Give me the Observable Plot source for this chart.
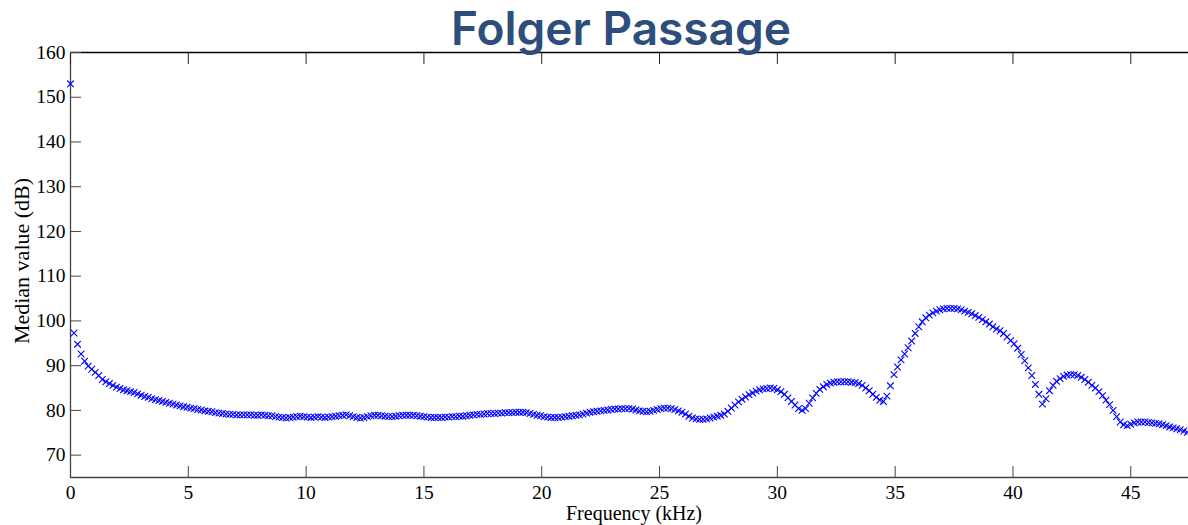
<!DOCTYPE html>
<html>
<head>
<meta charset="utf-8">
<script src="https://cdn.jsdelivr.net/npm/d3@7"></script>
<script src="https://cdn.jsdelivr.net/npm/@observablehq/plot@0.6"></script>
<style>
  html, body { margin: 0; padding: 0; background: #fff; }
  #wrap { position: relative; width: 1188px; height: 525px; overflow: hidden; }
  #title { position: absolute; left: 421px; width: 400px; top: 0px; text-align: center;
           font-family: "Inter", "Open Sans", sans-serif; font-weight: 600; font-size: 46px; color: #2d4e7b; line-height: normal; white-space: nowrap; }
  #ylab { position: absolute; left: 22px; top: 261px; transform: translate(-50%, -50%) rotate(-90deg);
          font-family: "Liberation Serif", serif; font-size: 22px; white-space: nowrap; color: #000; line-height: 22px; }
  #xlab { position: absolute; left: 634px; top: 503px; transform: translateX(-50%);
          font-family: "Liberation Serif", serif; font-size: 20px; white-space: nowrap; color: #000; line-height: 20px; }
</style>
</head>
<body>
<div id="wrap">
  <div id="chart"></div>
  <div id="title">Folger Passage</div>
  <div id="ylab">Median value (dB)</div>
  <div id="xlab">Frequency (kHz)</div>
</div>
<script>
// Frequency bins: uniform spacing in kHz, starting at 0
const freqStep = 0.15;
// Median value (dB), one per bin
const medianDb = [
  153, 97.3, 94.8, 92.6, 91.0, 89.9, 89.2, 88.5, 87.8, 86.9,
  86.4, 86.0, 85.6, 85.2, 84.9, 84.6, 84.4, 84.2, 84.0, 83.7,
  83.4, 83.1, 82.9, 82.6, 82.4, 82.2, 82.0, 81.8, 81.6, 81.4,
  81.2, 81.0, 80.8, 80.7, 80.5, 80.4, 80.2, 80.1, 79.9, 79.8,
  79.7, 79.5, 79.4, 79.3, 79.2, 79.1, 79.1, 79.0, 79.0, 79.0,
  79.0, 79.0, 78.9, 78.9, 79.0, 78.9, 78.8, 78.8, 78.6, 78.5,
  78.4, 78.3, 78.4, 78.5, 78.6, 78.7, 78.6, 78.5, 78.4, 78.5,
  78.6, 78.5, 78.4, 78.5, 78.6, 78.7, 78.8, 78.9, 79.0, 78.8,
  78.6, 78.4, 78.3, 78.4, 78.6, 78.8, 78.9, 78.9, 78.8, 78.7,
  78.6, 78.6, 78.7, 78.8, 78.9, 78.9, 78.9, 78.9, 78.8, 78.7,
  78.6, 78.5, 78.4, 78.4, 78.4, 78.4, 78.5, 78.5, 78.6, 78.6,
  78.7, 78.7, 78.8, 78.9, 79.0, 79.1, 79.1, 79.2, 79.3, 79.3,
  79.3, 79.4, 79.4, 79.5, 79.5, 79.5, 79.6, 79.6, 79.6, 79.5,
  79.3, 79.1, 78.9, 78.8, 78.6, 78.5, 78.4, 78.4, 78.4, 78.5,
  78.6, 78.7, 78.8, 78.9, 79.0, 79.2, 79.4, 79.6, 79.7, 79.8,
  79.9, 80.0, 80.1, 80.2, 80.3, 80.3, 80.4, 80.4, 80.4, 80.3,
  80.1, 79.9, 79.8, 79.7, 79.8, 80.0, 80.2, 80.4, 80.5, 80.5,
  80.4, 80.2, 79.9, 79.6, 79.2, 78.7, 78.3, 78.1, 78.0, 78.0,
  78.1, 78.3, 78.5, 78.7, 78.9, 79.2, 79.8, 80.5, 81.2, 81.9,
  82.5, 83.0, 83.5, 83.9, 84.3, 84.6, 84.8, 84.9, 85.0, 84.9,
  84.6, 84.2, 83.6, 82.8, 82.0, 81.2, 80.4, 80.0, 80.4, 81.6,
  82.8, 83.8, 84.7, 85.3, 85.8, 86.1, 86.3, 86.4, 86.4, 86.4,
  86.4, 86.3, 86.2, 86.0, 85.6, 85.0, 84.4, 83.6, 82.9, 82.3,
  82.0, 83.2, 85.5, 88.0, 89.7, 91.3, 92.6, 94.0, 95.5, 97.2,
  98.7, 99.8, 100.7, 101.3, 101.8, 102.2, 102.5, 102.7, 102.8, 102.8,
  102.8, 102.7, 102.5, 102.2, 101.9, 101.6, 101.2, 100.8, 100.3, 99.8,
  99.3, 98.7, 98.2, 97.8, 97.2, 96.4, 95.6, 94.9, 93.9, 92.5,
  91.1, 89.5, 87.8, 85.8, 83.6, 81.4, 82.6, 84.4, 85.6, 86.5,
  87.1, 87.6, 87.9, 88.0, 88.0, 87.8, 87.4, 86.9, 86.3, 85.6,
  85.0, 84.2, 83.3, 82.3, 81.3, 80.0, 78.6, 77.4, 76.8, 76.6,
  76.9, 77.2, 77.4, 77.4, 77.4, 77.3, 77.2, 77.1, 77.0, 76.8,
  76.6, 76.3, 76.1, 75.9, 75.7, 75.4, 75.1
];
const xTicks = [0, 5, 10, 15, 20, 25, 30, 35, 40, 45];
const yTicks = [70, 80, 90, 100, 110, 120, 130, 140, 150, 160];
const xDomain = [0, 47.45];
const yDomain = [65, 160];

const data = medianDb.map((v, i) => ({freq: i * freqStep, db: v}));

const axisColor = "#444";
const tickFont = {fontFamily: "Liberation Serif, serif", fontSize: 19.5};

const chart = Plot.plot({
  width: 1188,
  height: 525,
  marginLeft: 70,
  marginRight: 0,
  marginTop: 52,
  marginBottom: 48,
  style: {fontFamily: "Liberation Serif, serif", fontSize: "19.5px", color: "#000", background: "#fff"},
  x: {domain: xDomain},
  y: {domain: yDomain},
  marks: [
    Plot.ruleY([yDomain[1]], {stroke: "#000", strokeWidth: 1.3}),
    Plot.ruleY([yDomain[0]], {stroke: axisColor, strokeWidth: 1.3}),
    Plot.ruleX([xDomain[0]], {stroke: axisColor, strokeWidth: 1.3}),
    Plot.axisX(xTicks, {anchor: "bottom", tickSize: -11, tickPadding: 19, stroke: axisColor, color: "#000", label: null, ...tickFont}),
    Plot.axisX(xTicks, {anchor: "top", tickSize: -11, tickFormat: () => "", stroke: "#222", label: null}),
    Plot.axisY(yTicks, {anchor: "left", tickSize: -11, tickPadding: 16, stroke: axisColor, color: "#000", label: null, ...tickFont}),
    Plot.dot(data, {x: "freq", y: "db", symbol: "times", r: 3.1, stroke: "#0000ff", strokeWidth: 1.1})
  ]
});
document.getElementById("chart").appendChild(chart);
</script>
</body>
</html>
